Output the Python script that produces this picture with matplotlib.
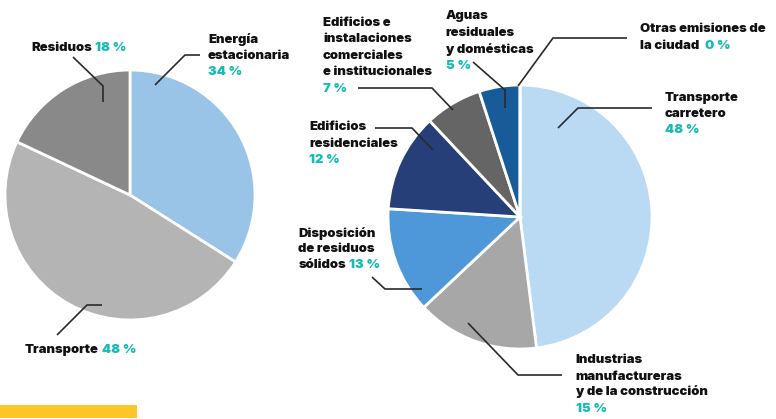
import matplotlib
matplotlib.use("Agg")
import matplotlib.pyplot as plt

# ---------------- data ----------------
left_labels = ["Energía estacionaria", "Transporte", "Residuos"]
left_values = [34, 48, 18]
left_colors = ["#9AC3E8", "#B4B4B4", "#898989"]

right_labels = ["Transporte carretero", "Industrias manufactureras y de la construcción",
                "Disposición de residuos sólidos", "Edificios residenciales",
                "Edificios e instalaciones comerciales e institucionales",
                "Aguas residuales y domésticas", "Otras emisiones de la ciudad"]
right_values = [48, 15, 13, 12, 7, 5, 0]
right_colors = ["#BAD9F2", "#A7A7A7", "#4E98DA", "#263F79", "#656565", "#175B98", "#175B98"]

W, H = 776, 419
TEAL = "#16BCB4"
INK = "#111111"
FONT = "Inter"
FW = 900
FS = 9.4

fig = plt.figure(figsize=(W / 100, H / 100), dpi=100)
ax = fig.add_axes([0, 0, 1, 1])


def Y(py):
    return H - py


ax.pie(left_values, colors=left_colors, startangle=90, counterclock=False,
       center=(130, Y(195)), radius=125, frame=True,
       wedgeprops=dict(edgecolor="white", linewidth=2))
ax.pie(right_values, colors=right_colors, startangle=90, counterclock=False,
       center=(520, Y(217)), radius=132, frame=True,
       wedgeprops=dict(edgecolor="white", linewidth=2))

ax.set_xlim(0, W)
ax.set_ylim(0, H)
ax.set_aspect("equal")
ax.axis("off")

# yellow bar
ax.add_patch(plt.Rectangle((0, Y(418)), 137, 13, color="#FFC629", lw=0))

# leaders
leaders = [
    [(73, 57), (103, 86), (103, 102)],
    [(200, 55), (185, 55), (155, 85)],
    [(57, 335), (87, 305), (102, 305)],
    [(358, 88), (432, 88), (453, 110)],
    [(473, 62), (505, 90), (505, 108)],
    [(627, 38), (553, 38), (518, 86)],
    [(652, 108), (578, 108), (558, 128)],
    [(375, 128), (412, 128), (433, 150)],
    [(372, 277), (385, 289), (422, 289)],
    [(562, 375), (518, 375), (468, 323)],
]
for pts in leaders:
    ax.plot([p[0] for p in pts], [Y(p[1]) for p in pts], color="#2a2a2a", lw=1.2,
            solid_capstyle="butt")

fig.canvas.draw()
renderer = fig.canvas.get_renderer()


def line(x, py, parts, gap=3):
    cx = x
    for i, (s, col) in enumerate(parts):
        t = ax.text(cx, Y(py), s, color=col, fontsize=FS, fontfamily=FONT,
                    fontweight=FW, ha="left", va="baseline")
        bb = t.get_window_extent(renderer)
        cx = cx + bb.width + gap


line(31.7, 51, [("Residuos", INK), ("18 %", TEAL)])
line(208, 43, [("Energía", INK)])
line(208, 59, [("estacionaria", INK)])
line(208, 75, [("34 %", TEAL)])
line(25, 353, [("Transporte", INK), ("48 %", TEAL)])

line(323, 26, [("Edificios e", INK)])
line(323, 42, [("instalaciones", INK)])
line(323, 58.5, [("comerciales", INK)])
line(323, 75, [("e institucionales", INK)])
line(323, 92, [("7 %", TEAL)])

line(445.7, 19, [("Aguas", INK)])
line(445.7, 36, [("residuales", INK)])
line(445.7, 52.7, [("y domésticas", INK)])
line(445.7, 69.3, [("5 %", TEAL)])

line(640, 32.3, [("Otras emisiones de", INK)])
line(640, 49.3, [("la ciudad", INK), ("0 %", TEAL)], gap=6)

line(665, 100.7, [("Transporte", INK)])
line(665, 116.7, [("carretero", INK)])
line(665, 132.7, [("48 %", TEAL)])

line(309, 130, [("Edificios", INK)])
line(309, 146.7, [("residenciales", INK)])
line(309, 163.3, [("12 %", TEAL)])

line(298.3, 236.7, [("Disposición", INK)])
line(298.3, 251.7, [("de residuos", INK)])
line(298.3, 268.3, [("sólidos", INK), ("13 %", TEAL)])

line(575.7, 363.3, [("Industrias", INK)])
line(575.7, 380, [("manufactureras", INK)])
line(575.7, 395.5, [("y de la construcción", INK)])
line(575.7, 411.7, [("15 %", TEAL)])

fig.savefig("out.png", dpi=100)
